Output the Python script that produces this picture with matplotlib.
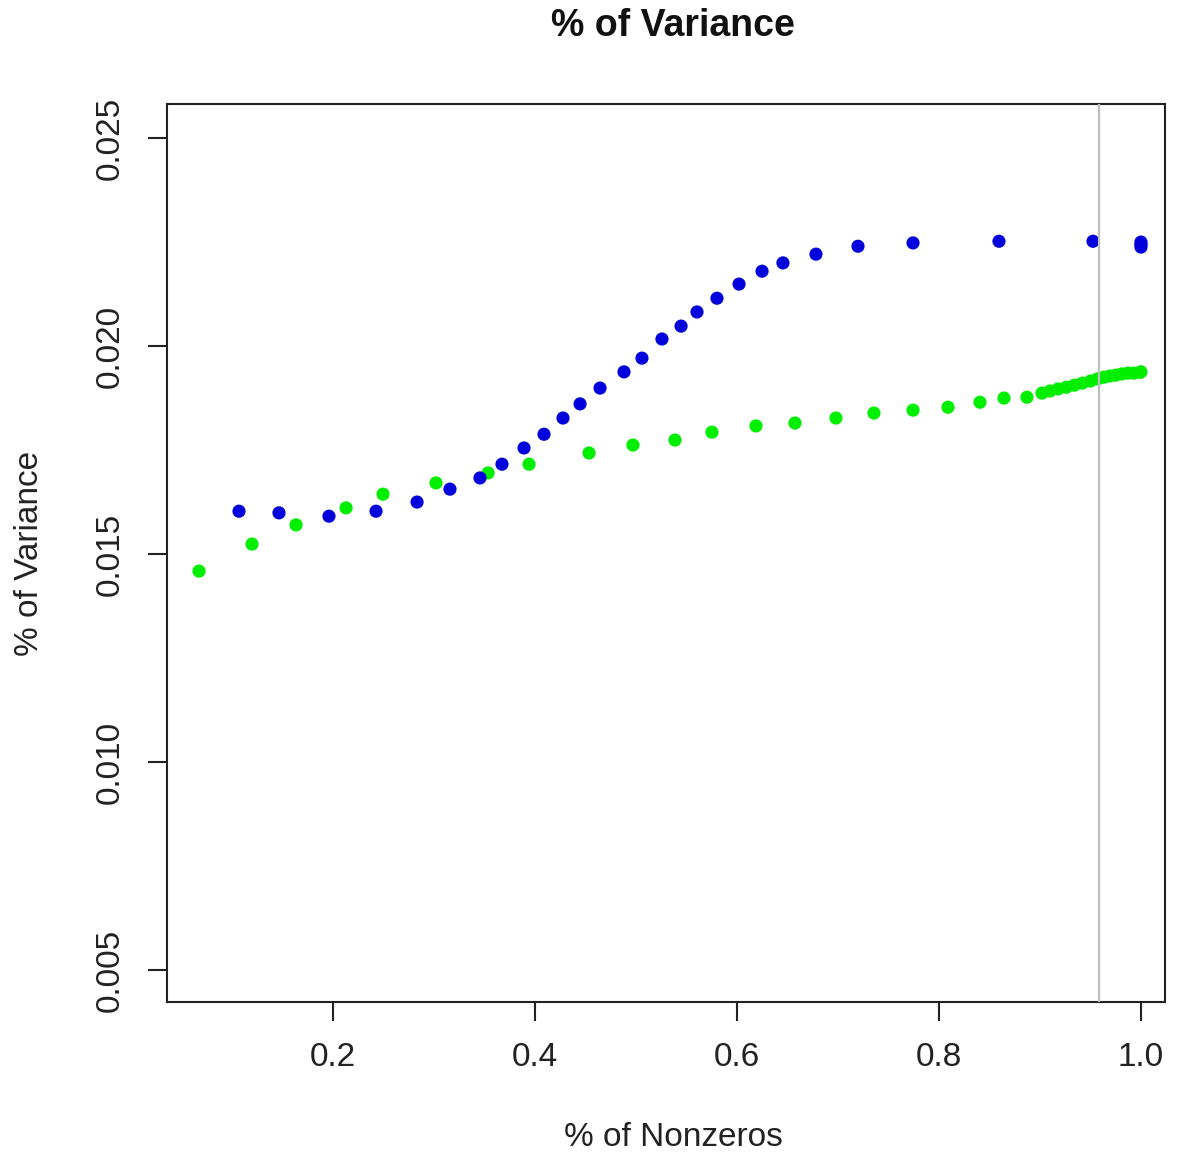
import matplotlib
matplotlib.use("Agg")
import matplotlib.pyplot as plt

plt.rcParams['font.family'] = ['Liberation Sans', 'DejaVu Sans']

blue_x = [0.1069, 0.1465, 0.1960, 0.2426, 0.2832, 0.3158, 0.3455, 0.3673, 0.3891, 0.4089,
          0.4277, 0.4446, 0.4644, 0.4881, 0.5059, 0.5257, 0.5446, 0.5604, 0.5802, 0.6020,
          0.6248, 0.6455, 0.6782, 0.7198, 0.7743, 0.8594, 0.9525, 1.0, 1.0, 1.0]
blue_y = [0.01603, 0.01599, 0.01591, 0.01603, 0.01625, 0.01656, 0.01683, 0.01716, 0.01755, 0.01788,
          0.01827, 0.01861, 0.01899, 0.01938, 0.01971, 0.02017, 0.02048, 0.02082, 0.02115, 0.02149,
          0.02180, 0.02200, 0.02221, 0.02240, 0.02248, 0.02252, 0.02252, 0.02250, 0.02244, 0.02238]

green_x = [0.0673, 0.1198, 0.1634, 0.2129, 0.2495, 0.3020, 0.3535, 0.3941, 0.4535, 0.4970,
           0.5386, 0.5752, 0.6188, 0.6574, 0.6980, 0.7356, 0.7743, 0.8089, 0.8406, 0.8644,
           0.8871, 0.902, 0.910, 0.918, 0.926, 0.934, 0.942, 0.950, 0.957, 0.963,
           0.969, 0.975, 0.981, 0.987, 0.993, 0.999, 1.0]
green_y = [0.01459, 0.01524, 0.01570, 0.01611, 0.01644, 0.01671, 0.01695, 0.01716, 0.01743, 0.01762,
           0.01774, 0.01793, 0.01808, 0.01815, 0.01827, 0.01839, 0.01846, 0.01853, 0.01865, 0.01875,
           0.01877, 0.01887, 0.01892, 0.01897, 0.01901, 0.01906, 0.01911, 0.01916, 0.01921, 0.01925,
           0.01928, 0.01930, 0.01933, 0.01935, 0.01935, 0.01937, 0.01938]

vline_x = 0.958
x_ticks = [0.2, 0.4, 0.6, 0.8, 1.0]
x_tick_labels = ["0.2", "0.4", "0.6", "0.8", "1.0"]
y_ticks = [0.005, 0.010, 0.015, 0.020, 0.025]
y_tick_labels = ["0.005", "0.010", "0.015", "0.020", "0.025"]

W, H = 1182, 1160
fig = plt.figure(figsize=(W / 100, H / 100), dpi=100)
ax = fig.add_axes([167 / W, 1 - 1002 / H, (1165 - 167) / W, (1002 - 104) / H])

ax.scatter(green_x, green_y, s=90, color='#00ee00', edgecolors='none', zorder=2)
ax.scatter(blue_x, blue_y, s=90, color='#0000dd', edgecolors='none', zorder=2)
ax.axvline(vline_x, color='#bebebe', lw=1.6, zorder=3)

ax.set_xlim(0.0356, 1.0238)
ax.set_ylim(0.00423, 0.02582)
ax.set_xticks(x_ticks)
ax.set_xticklabels(x_tick_labels)
ax.set_yticks(y_ticks)
ax.set_yticklabels(y_tick_labels, rotation=90, va='center')

for s in ax.spines.values():
    s.set_linewidth(1.5)
    s.set_color('#222222')
ax.tick_params(axis='both', direction='out', length=14, width=1.5, color='#222222',
               labelsize=24, labelcolor='#222222')
ax.tick_params(axis='x', pad=15)
ax.tick_params(axis='y', pad=16)

fig.text(673 / W, 1 - 26 / H, "% of Variance", ha='center', va='center',
         fontsize=27, fontweight='bold', color='#111111')
fig.text(673 / W, 1 - 1138 / H, "% of Nonzeros", ha='center', va='center',
         fontsize=24, color='#222222')
fig.text(30 / W, 1 - 553 / H, "% of Variance", ha='center', va='center', rotation=90,
         fontsize=24, color='#222222')

fig.savefig("out.png", dpi=100)
